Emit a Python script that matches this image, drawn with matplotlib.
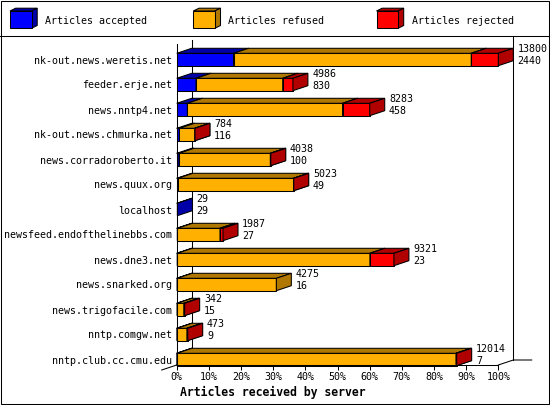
import matplotlib
matplotlib.use("Agg")
import matplotlib.pyplot as plt
from matplotlib.patches import Polygon, Rectangle

# innfeed style report: articles per server
servers = ["nk-out.news.weretis.net", "feeder.erje.net", "news.nntp4.net",
           "nk-out.news.chmurka.net", "news.corradoroberto.it", "news.quux.org",
           "localhost", "newsfeed.endofthelinebbs.com", "news.dne3.net",
           "news.snarked.org", "news.trigofacile.com", "nntp.comgw.net",
           "nntp.club.cc.cmu.edu"]
offered = [13800, 4986, 8283, 784, 4038, 5023, 29, 1987, 9321, 4275, 342, 473, 12014]
accepted = [2440, 830, 458, 116, 100, 49, 29, 27, 23, 16, 15, 9, 7]
refused = [10200, 3720, 6660, 660, 3918, 4964, 0, 1831, 8268, 4259, 290, 429, 11977]
rejected = [1160, 436, 1165, 8, 20, 10, 0, 129, 1030, 0, 37, 35, 30]

series_names = ["Articles accepted", "Articles refused", "Articles rejected"]
ticks_pct = [0, 10, 20, 30, 40, 50, 60, 70, 80, 90, 100]

FRONT = ["#0000ff", "#ffb000", "#ff0000"]
SHADE = ["#0000a8", "#b07800", "#b00000"]
FONT = "DejaVu Sans Mono"
FS = 7.2

W, H = 550, 405
# plot area in pixels
X0, X100 = 176.7, 498.3
Y_TOP, Y_FLOOR = 40, 365
ROW0, ROW_STEP = 59.5, 25.0
DEPTH_X, DEPTH_Y = 15, 5


def px_to_row(py):
    return (py - ROW0) / ROW_STEP


fig = plt.figure(figsize=(W / 100, H / 100), dpi=100)
fig.patch.set_facecolor("white")

# background / frame in pixel coords
bg = fig.add_axes([0, 0, 1, 1], zorder=0)
bg.set_xlim(0, W)
bg.set_ylim(H, 0)
bg.axis("off")
lw = 0.75
bg.add_patch(Rectangle((0.5, 0.5), W - 1.5, H - 1.5, fill=False, ec="black", lw=lw))
bg.plot([0, W], [35.5, 35.5], color="black", lw=lw)
# back walls
bg.plot([X0 + DEPTH_X, X0 + DEPTH_X], [Y_TOP, Y_FLOOR - DEPTH_Y], color="black", lw=lw)
bg.plot([X100 + DEPTH_X, X100 + DEPTH_X], [35.5, Y_FLOOR - DEPTH_Y], color="black", lw=lw)
# floor edges
bg.plot([X100, X100 + DEPTH_X, 531.7], [Y_FLOOR, Y_FLOOR - DEPTH_Y, Y_FLOOR - DEPTH_Y],
        color="black", lw=lw)
bg.plot([X0 - DEPTH_X, X0], [Y_FLOOR + DEPTH_Y, Y_FLOOR], color="black", lw=lw)

# legend cubes
legend_x = [10, 193.3, 376.5]
for k, name in enumerate(series_names):
    lx = legend_x[k]
    bw, bh, dx, dy = 21.5, 17.3, 5.7, 2.8
    ty, by = 11, 11 + bh
    bg.add_patch(Polygon([(lx, ty), (lx + bw, ty), (lx + bw + dx, ty - dy), (lx + dx, ty - dy)],
                         fc=SHADE[k], ec="black", lw=lw))
    bg.add_patch(Polygon([(lx + bw, ty), (lx + bw, by), (lx + bw + dx, by - dy), (lx + bw + dx, ty - dy)],
                         fc=SHADE[k], ec="black", lw=lw))
    bg.add_patch(Rectangle((lx, ty), bw, bh, fc=FRONT[k], ec="black", lw=lw))
    bg.text(lx + 35, 20.5, name, family=FONT, fontsize=FS, ha="left", va="center")

bg.text(179.5, 392, "Articles received by server", family=FONT, fontsize=8.3,
        weight="bold", ha="left", va="center")

# data axes: x in percent of the largest server, y in rows
ax = fig.add_axes([X0 / W, (H - Y_FLOOR) / H, (X100 - X0) / W, (Y_FLOOR - Y_TOP) / H], zorder=1)
ax.patch.set_visible(False)
ax.set_xlim(0, 100)
ax.set_ylim(px_to_row(Y_FLOOR), px_to_row(Y_TOP))
for side in ["top", "right"]:
    ax.spines[side].set_visible(False)
ax.spines["left"].set_bounds(px_to_row(Y_FLOOR), px_to_row(44))
ax.spines["left"].set_linewidth(lw)
ax.spines["bottom"].set_linewidth(lw)

ax.set_xticks(ticks_pct)
ax.set_xticklabels(["{}%".format(t) for t in ticks_pct], family=FONT, fontsize=FS)
ax.tick_params(axis="x", length=3.6, width=lw, pad=1.5)
ax.set_yticks(range(len(servers)))
ax.set_yticklabels(servers, family=FONT, fontsize=FS)
ax.tick_params(axis="y", length=0, pad=3.4)

scale = 100.0 / max(offered)
dx = DEPTH_X / ((X100 - X0) / 100.0)
dy = -DEPTH_Y / ROW_STEP
hh = 6.2 / ROW_STEP

for r in range(len(servers)):
    segs = [accepted[r] * scale, refused[r] * scale, rejected[r] * scale]
    x0 = 0.0
    for k, w in enumerate(segs):
        if w <= 0:
            continue
        x1 = x0 + w
        top, bot = r - hh, r + hh
        ax.add_patch(Rectangle((x0, top), w, 2 * hh, fc=FRONT[k], ec="black", lw=lw, clip_on=False))
        ax.add_patch(Polygon([(x0, top), (x1, top), (x1 + dx, top + dy), (x0 + dx, top + dy)],
                             fc=SHADE[k], ec="black", lw=lw, clip_on=False))
        ax.add_patch(Polygon([(x1, top), (x1, bot), (x1 + dx, bot + dy), (x1 + dx, top + dy)],
                             fc=SHADE[k], ec="black", lw=lw, clip_on=False))
        x0 = x1
    lx = offered[r] * scale + dx + 1.3
    ax.text(lx, r - 0.42, str(offered[r]), family=FONT, fontsize=FS, va="center", ha="left")
    ax.text(lx, r + 0.05, str(accepted[r]), family=FONT, fontsize=FS, va="center", ha="left")

fig.savefig("out.png", dpi=100)
